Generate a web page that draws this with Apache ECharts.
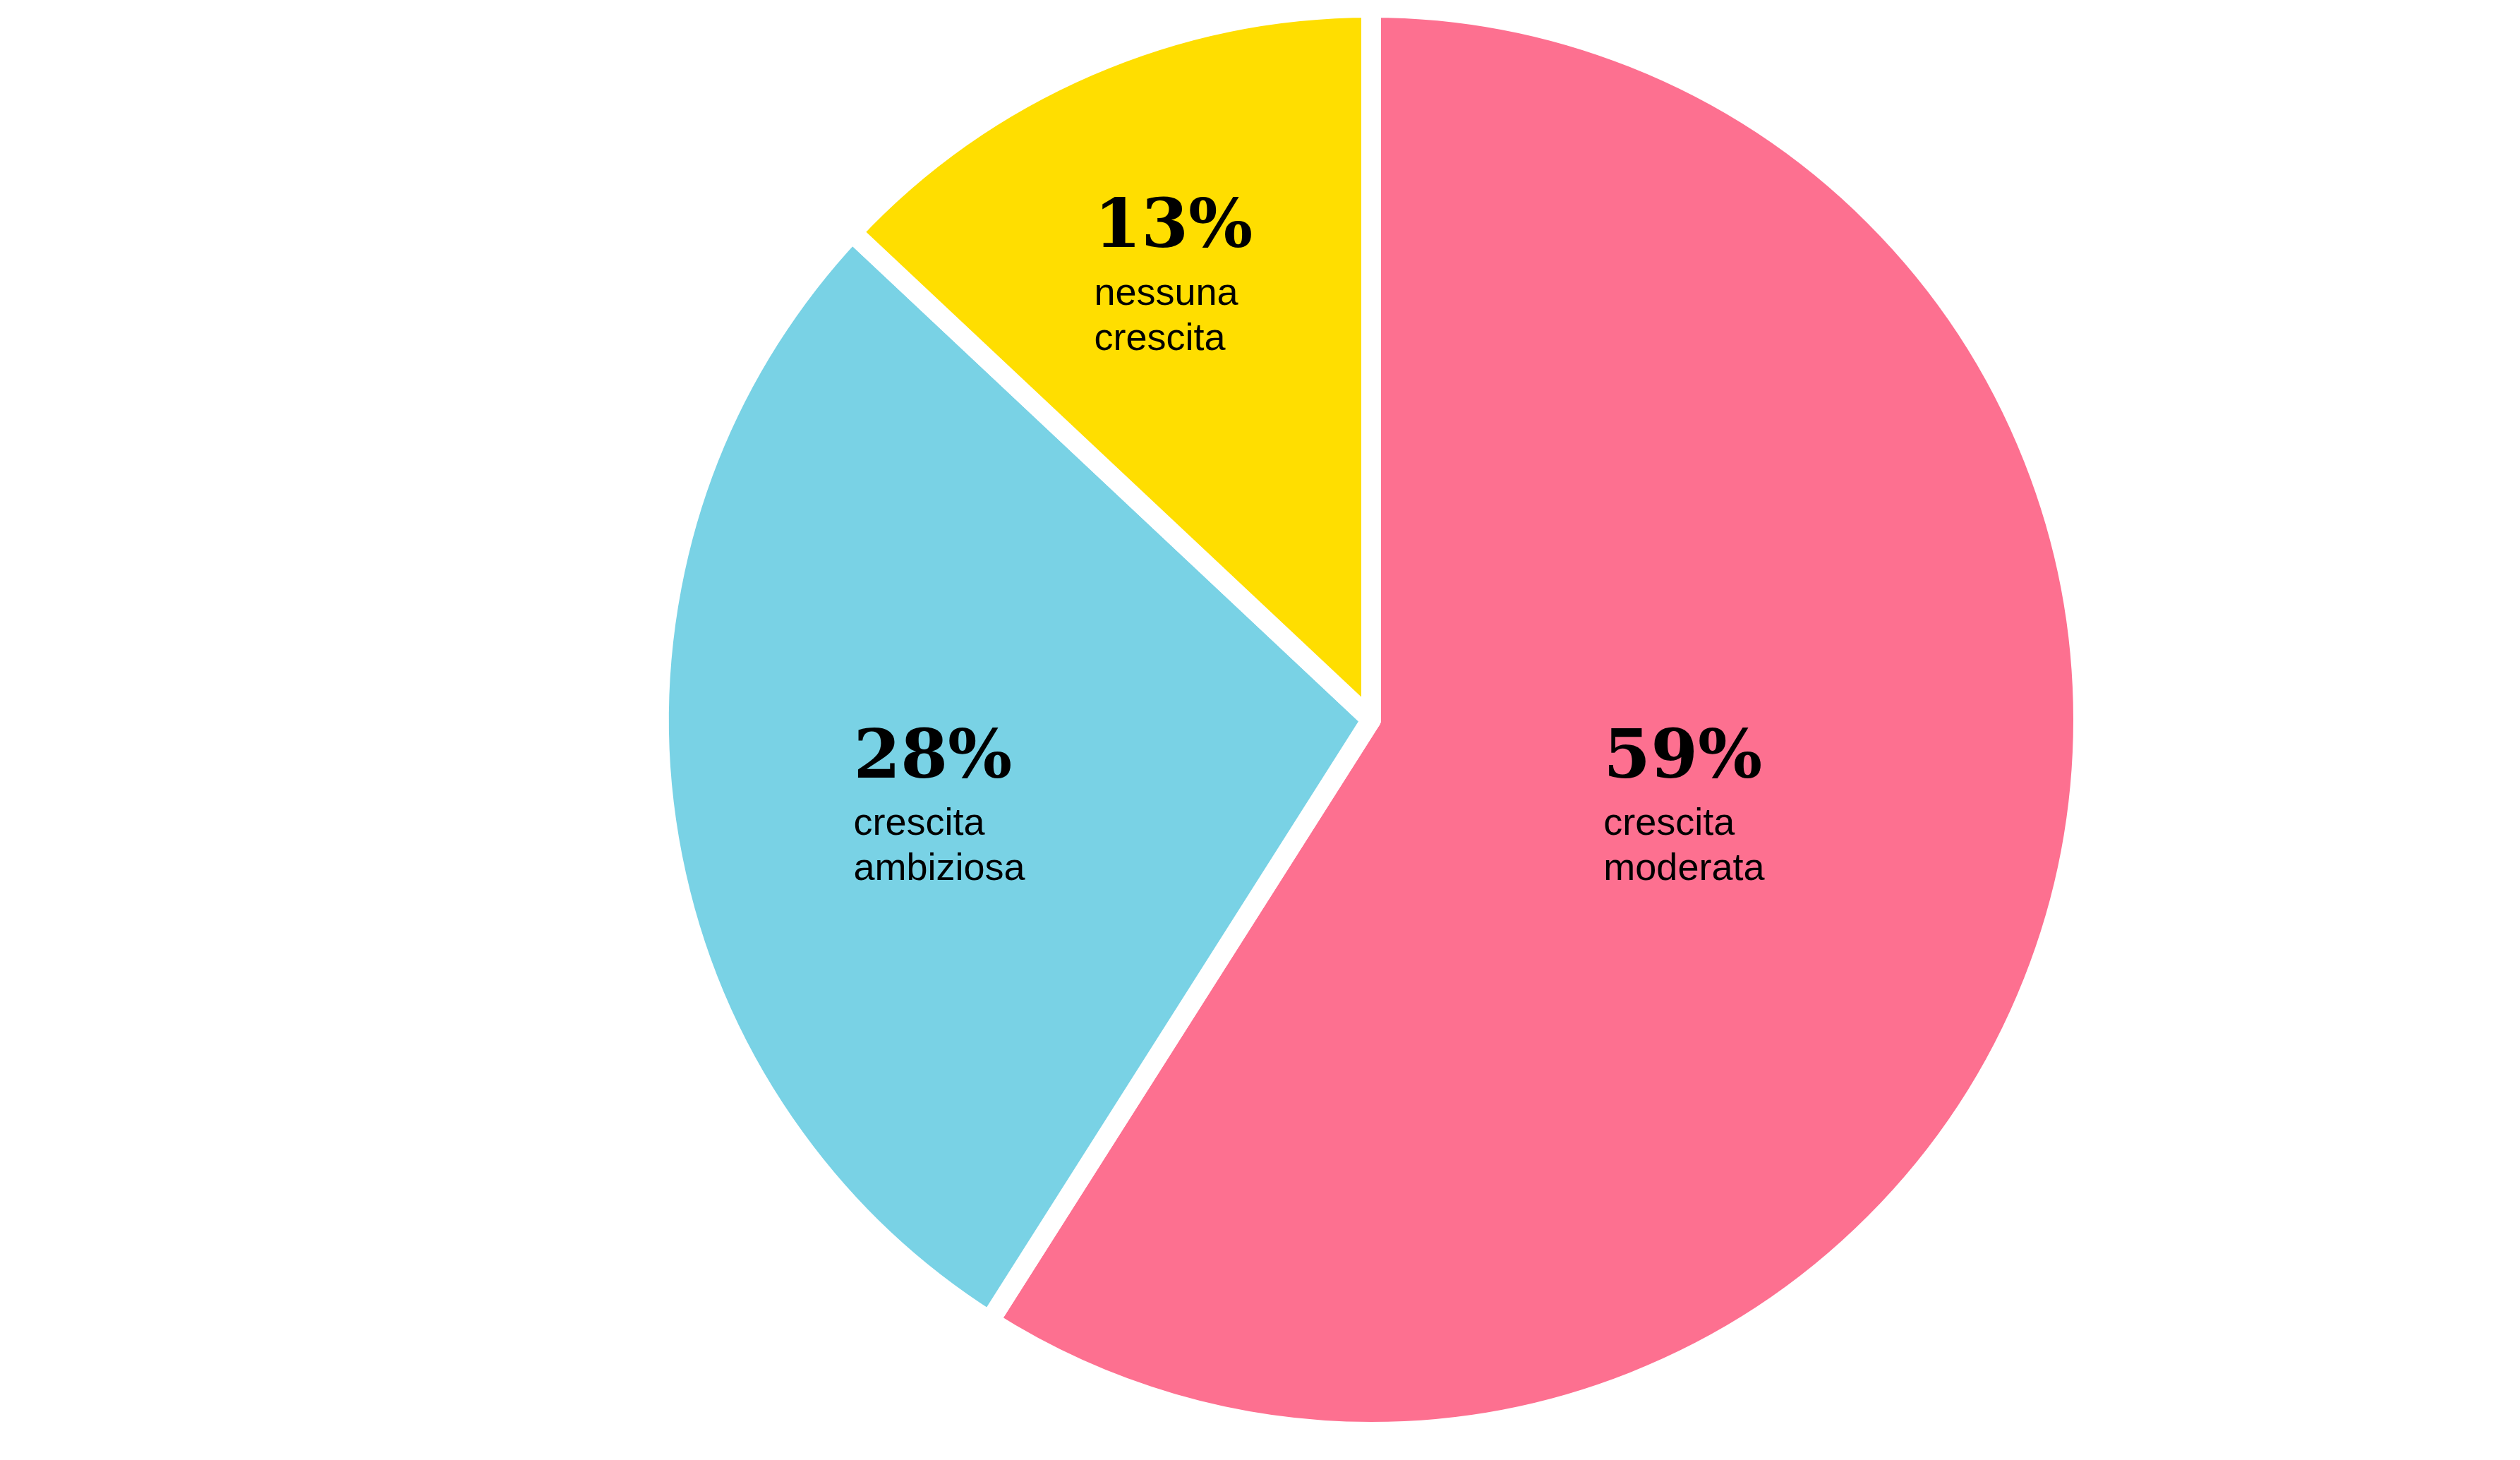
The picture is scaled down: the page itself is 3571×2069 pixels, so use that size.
<!DOCTYPE html>
<html>
<head>
<meta charset="utf-8">
<script src="https://cdn.jsdelivr.net/npm/echarts@6/dist/echarts.min.js"></script>
<style>
html, body { margin: 0; padding: 0; background: #fff; }
#chart { width: 3571px; height: 2069px; }
</style>
</head>
<body>
<div id="chart"></div>
<script>
// dati del grafico
var categories = ['crescita\nmoderata', 'crescita\nambiziosa', 'nessuna\ncrescita'];
var values = [59, 28, 13];
var colors = ['#fd7090', '#79d2e5', '#ffde00'];

// spostamento delle etichette dentro le fette
var labelOffsets = [[-28, -21], [-100, 57], [-61, -165]];

var myChart = echarts.init(document.getElementById('chart'));

var seriesData = values.map(function (v, i) {
	return {
		name: categories[i],
		value: v,
		itemStyle: { color: colors[i] },
		label: { offset: labelOffsets[i] }
	};
});

myChart.setOption({
	animation: false,
	series: [{
		type: 'pie',
		center: [1943, 1020],
		radius: 1009,
		startAngle: 90,
		clockwise: true,
		avoidLabelOverlap: false,
		emphasis: { disabled: true },
		itemStyle: {
			borderColor: '#ffffff',
			borderWidth: 28
		},
		label: {
			show: true,
			position: 'inside',
			formatter: function (p) {
				var lines = p.name.split('\n').map(function (s) { return '{t|' + s + '}'; });
				return '{p|' + p.value + '%}\n' + lines.join('\n');
			},
			rich: {
				p: {
					fontFamily: 'DejaVu Serif',
					fontWeight: 'bold',
					fontSize: 96,
					lineHeight: 120,
					color: '#000',
					width: 260,
					align: 'left'
				},
				t: {
					fontFamily: 'Liberation Sans',
					fontSize: 54,
					lineHeight: 64,
					color: '#000',
					width: 260,
					align: 'left'
				}
			}
		},
		labelLine: { show: false },
		data: seriesData
	}]
});
</script>
</body>
</html>
